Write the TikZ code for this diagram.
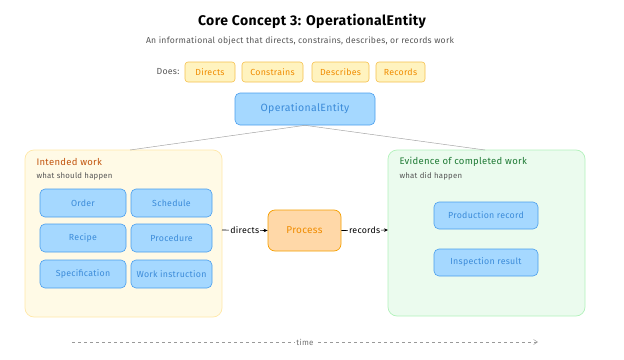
\documentclass[tikz,border=0pt]{standalone}
\usepackage{fontspec}
\setmainfont{Fira Sans}[LetterSpace=3]
\usetikzlibrary{arrows.meta}
\definecolor{bluefill}{HTML}{A5D8FF}
\definecolor{bluestroke}{HTML}{4A9EED}
\definecolor{bluetext}{HTML}{3B8BD9}
\definecolor{yelfill}{HTML}{FFF3BF}
\definecolor{yelstroke}{HTML}{F5C04D}
\definecolor{orangetext}{HTML}{F08C00}
\definecolor{procfill}{HTML}{FFD8A8}
\definecolor{procstroke}{HTML}{F59F00}
\definecolor{leftfill}{HTML}{FFFAE6}
\definecolor{leftstroke}{HTML}{FFE8A8}
\definecolor{rightfill}{HTML}{EBFBEE}
\definecolor{rightstroke}{HTML}{B2F2BB}
\definecolor{brown}{HTML}{C2550F}
\definecolor{darkgreen}{HTML}{1E7A34}
\definecolor{graytext}{HTML}{555555}
\tikzset{
  x=1pt,y=-1pt,
  every node/.style={font=\fontsize{8.8}{10}\selectfont},
  badge/.style={draw=yelstroke,fill=yelfill,text=orangetext,rounded corners=3pt,line width=0.6pt,minimum height=20pt,inner sep=0pt},
  bluebox/.style={draw=bluestroke,fill=bluefill,text=bluetext,rounded corners=5pt,line width=0.6pt,inner sep=0pt},
  container/.style={rounded corners=9pt,line width=0.7pt},
  link/.style={draw=black!35,line width=0.5pt},
  flow/.style={draw=black,line width=0.6pt,-{Stealth[length=4pt,width=3.5pt]}},
}
\begin{document}
\begin{tikzpicture}
\useasboundingbox (0,0) rectangle (624,359);
% title
\node (title) at (312,21) {\fontsize{14}{16}\selectfont\bfseries Core Concept 3: OperationalEntity};
\node[text=graytext] (subtitle) at (300,41) {\fontsize{8.6}{10}\selectfont An informational object that directs, constrains, describes, or records work};
% badges
\node[text=graytext,anchor=east] (does) at (183,72) {Does:};
\node[badge,minimum width=50pt] (b1) at (210,72) {Directs};
\node[badge,minimum width=61pt] (b2) at (272.5,72) {Constrains};
\node[badge,minimum width=57pt] (b3) at (340.5,72) {Describes};
\node[badge,minimum width=49pt] (b4) at (400.5,72) {Records};
% main entity
\node[bluebox,minimum width=140pt,minimum height=32pt,font=\fontsize{10.5}{12}\selectfont] (oe) at (305,109) {OperationalEntity};
% containers
\path[container,draw=leftstroke,fill=leftfill] (25,150) rectangle (222,317);
\coordinate (ltop) at (130,150);
\coordinate (lright) at (222,230);
\node[anchor=west,text=brown,font=\fontsize{9.5}{11}\selectfont] (lt) at (33,162) {Intended work};
\node[anchor=west,text=graytext,font=\fontsize{7.8}{9}\selectfont] (ls) at (33,176) {what should happen};
\path[container,draw=rightstroke,fill=rightfill] (388,150) rectangle (585,316);
\coordinate (rtop) at (485,150);
\coordinate (rleft) at (388,230);
\node[anchor=west,text=darkgreen,font=\fontsize{9.5}{11}\selectfont] (rt) at (396,162) {Evidence of completed work};
\node[anchor=west,text=graytext,font=\fontsize{7.8}{9}\selectfont] (rs) at (396,176) {what did happen};
% links
\draw[link] (oe.south) -- (ltop);
\draw[link] (oe.south) -- (rtop);
% left inner
\node[bluebox,minimum width=86pt,minimum height=28pt] (order) at (83,203) {Order};
\node[bluebox,minimum width=81pt,minimum height=28pt] (sched) at (171.5,203) {Schedule};
\node[bluebox,minimum width=86pt,minimum height=28pt] (recipe) at (83,238) {Recipe};
\node[bluebox,minimum width=81pt,minimum height=28pt] (proc) at (171.5,238) {Procedure};
\node[bluebox,minimum width=86pt,minimum height=28pt] (spec) at (83,274) {Specification};
\node[bluebox,minimum width=81pt,minimum height=28pt] (wi) at (171.5,274) {Work instruction};
% right inner
\node[bluebox,minimum width=104pt,minimum height=27pt] (prod) at (486,215.5) {Production record};
\node[bluebox,minimum width=104pt,minimum height=27pt] (insp) at (486,262.5) {Inspection result};
% process
\node[draw=procstroke,fill=procfill,text=orangetext,rounded corners=7pt,line width=0.7pt,minimum width=73pt,minimum height=41pt,inner sep=0pt,font=\fontsize{10}{11}\selectfont] (process) at (304.5,230.5) {Process};
\draw[flow] (lright) -- node[fill=white,inner sep=1pt] (dl) {directs} (process.west);
\draw[flow] (process.east) -- node[fill=white,inner sep=1pt] (rl) {records} (rleft);
% time
\coordinate (t0) at (72,342);
\coordinate (t1) at (538,342);
\draw[draw=black!40,line width=0.5pt,dashed,-{Straight Barb[length=4pt,width=5pt]}] (t0) -- node[fill=white,inner sep=1pt,text=black!55,font=\fontsize{8}{9}\selectfont] (tl) {time} (t1);
\end{tikzpicture}
\end{document}
